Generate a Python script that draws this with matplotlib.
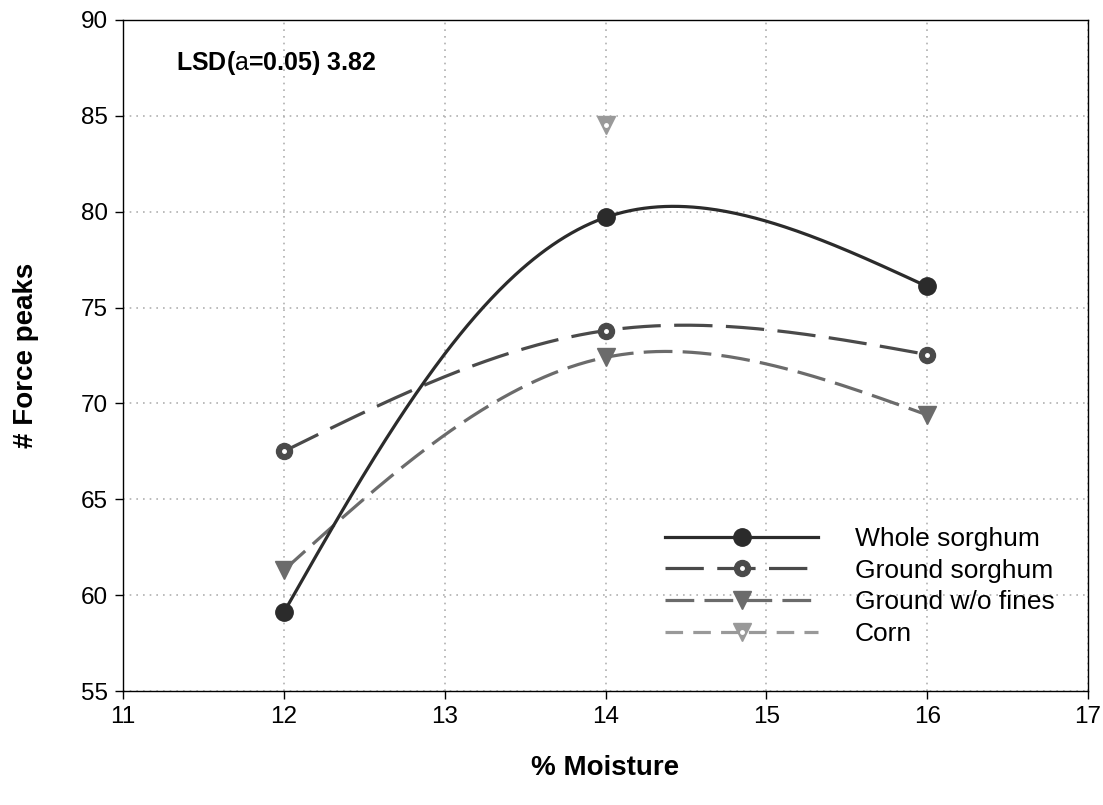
import numpy as np
import matplotlib
matplotlib.use("Agg")
import matplotlib.pyplot as plt
from matplotlib.lines import Line2D

plt.rcParams['font.family'] = ['Liberation Sans', 'DejaVu Sans']
plt.rcParams['mathtext.fontset'] = 'custom'
plt.rcParams['mathtext.rm'] = 'Liberation Sans'

# humedad (%) y picos de fuerza
humedad = [12, 14, 16]
sorgo_entero = [59.1, 79.7, 76.1]
sorgo_molido = [67.5, 73.8, 72.55]
molido_sin_finos = [61.3, 72.4, 69.4]
humedad_maiz = [14]
maiz = [84.5]

etiquetas = ["Whole sorghum", "Ground sorghum", "Ground w/o fines", "Corn"]


def spline_1d(t, v, ts):
    # spline cúbico natural en una variable (sin scipy)
    k = len(t)
    h = np.diff(t)
    A = np.zeros((k, k))
    b = np.zeros(k)
    A[0, 0] = A[-1, -1] = 1
    for i in range(1, k - 1):
        A[i, i - 1] = h[i - 1]
        A[i, i] = 2 * (h[i - 1] + h[i])
        A[i, i + 1] = h[i]
        b[i] = 6 * ((v[i + 1] - v[i]) / h[i] - (v[i] - v[i - 1]) / h[i - 1])
    M = np.linalg.solve(A, b)
    out = np.empty_like(ts)
    for j, tv in enumerate(ts):
        i = min(np.searchsorted(t, tv, side='right') - 1, k - 2)
        a, c = t[i + 1] - tv, tv - t[i]
        out[j] = (M[i] * a**3 + M[i + 1] * c**3) / (6 * h[i]) \
            + (v[i] / h[i] - M[i] * h[i] / 6) * a \
            + (v[i + 1] / h[i] - M[i + 1] * h[i] / 6) * c
    return out


def curva_suave(ax, x, y, n=300):
    # spline paramétrico (centrípeto) en coordenadas de pantalla
    P = ax.transData.transform(np.column_stack([x, y]))
    d = np.sqrt(np.hypot(*np.diff(P, axis=0).T))
    t = np.concatenate([[0], np.cumsum(d)])
    ts = np.linspace(0, t[-1], n)
    Q = np.column_stack([spline_1d(t, P[:, 0], ts), spline_1d(t, P[:, 1], ts)])
    Q = ax.transData.inverted().transform(Q)
    return Q[:, 0], Q[:, 1]


fig = plt.figure(figsize=(11.03, 8.05), dpi=100)
ax = fig.add_axes([123 / 1103, 1 - 691 / 805, (1088 - 123) / 1103, (691 - 20) / 805])
ax.set_xlim(11, 17)
ax.set_ylim(55, 90)

c_entero = '#2b2b2b'
c_molido = '#4a4a4a'
c_finos = '#6b6b6b'
c_maiz = '#999999'
lw = 2.3
d_molido = (12, 4.2)
d_finos = (9, 3.2)
d_maiz = (5.5, 3.2)

# curvas suavizadas
xs, ys = curva_suave(ax, humedad, molido_sin_finos)
ax.plot(xs, ys, color=c_finos, lw=lw, dashes=d_finos, zorder=3)
ax.plot(humedad, molido_sin_finos, 'v', color=c_finos, ms=12.5, zorder=4)

xs, ys = curva_suave(ax, humedad, sorgo_molido)
ax.plot(xs, ys, color=c_molido, lw=lw, dashes=d_molido, zorder=5)
ax.plot(humedad, sorgo_molido, 'o', color=c_molido, ms=11.5, zorder=6)
ax.plot(humedad, sorgo_molido, 'o', color='white', ms=2.5, zorder=7)

xs, ys = curva_suave(ax, humedad, sorgo_entero)
ax.plot(xs, ys, color=c_entero, lw=lw, zorder=8)
ax.plot(humedad, sorgo_entero, 'o', color=c_entero, ms=12.5, zorder=9)

ax.plot(humedad_maiz, maiz, 'v', color=c_maiz, ms=12.5, zorder=4)
ax.plot(humedad_maiz, maiz, 'o', color='white', ms=2.5, zorder=5)

ax.set_xticks(range(11, 18))
ax.set_yticks(range(55, 91, 5))
ax.tick_params(labelsize=17.5, direction='out', length=6, width=1, pad=5)
ax.grid(True, color='#b0b0b0', linestyle=(0, (1, 3)), linewidth=1.2)
for s in ax.spines.values():
    s.set_linewidth(1)

ax.set_xlabel('% Moisture', fontsize=20, fontweight='bold', labelpad=19)
ax.set_ylabel('# Force peaks', fontsize=20, fontweight='bold', labelpad=30)

ax.text(0.055, 0.957, r'LSD($\mathrm{a}$=0.05) 3.82', transform=ax.transAxes,
        fontsize=18, fontweight='bold', va='top', ha='left')

# leyenda con marcadores superpuestos
h_entero = Line2D([], [], color=c_entero, lw=lw, marker='o', ms=12.5)
h_molido = (Line2D([], [], color=c_molido, lw=lw, dashes=d_molido, marker='o', ms=11.5),
            Line2D([], [], ls='none', marker='o', color='white', ms=2.5))
h_finos = Line2D([], [], color=c_finos, lw=lw, dashes=d_finos, marker='v', ms=12.5)
h_maiz = (Line2D([], [], color=c_maiz, lw=lw, dashes=d_maiz, marker='v', ms=12.5),
          Line2D([], [], ls='none', marker='o', color='white', ms=2.5))
ax.legend([h_entero, h_molido, h_finos, h_maiz], etiquetas,
          loc='upper left', bbox_to_anchor=(0.5617, 0.2445), frameon=False,
          fontsize=19, handlelength=5.8, handletextpad=1.4, labelspacing=0.29,
          borderaxespad=0, borderpad=0)

fig.savefig('out.png', dpi=100)
